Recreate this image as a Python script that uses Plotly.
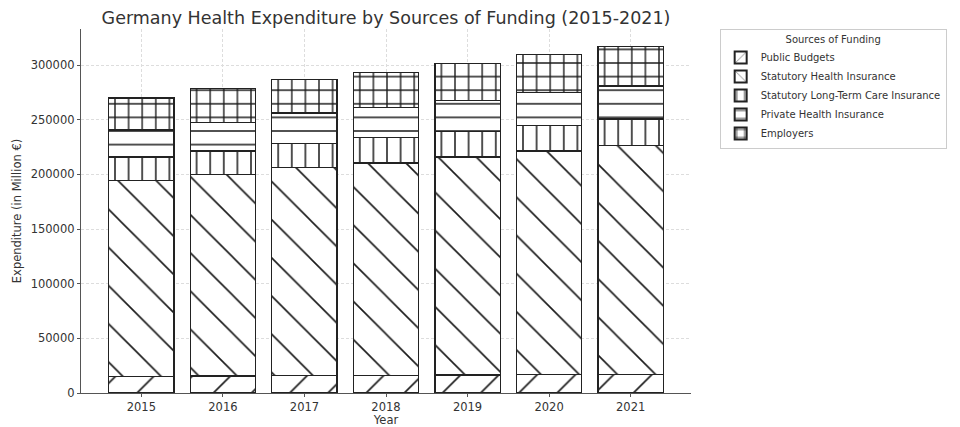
import plotly.graph_objects as go

years = ["2015", "2016", "2017", "2018", "2019", "2020", "2021"]
public_budgets = [15000, 15500, 16000, 16300, 16500, 16800, 17000]
statutory_health = [179500, 184300, 190000, 194200, 199500, 204700, 209400]
long_term_care = [21500, 21500, 22200, 23000, 23400, 23200, 24400]
private_health = [24500, 26000, 28000, 27500, 28500, 30000, 30000]
employers = [29500, 31000, 30500, 32500, 33500, 35000, 36500]

series = [
    ("Public Budgets", public_budgets, "/", 27, 0.06),
    ("Statutory Health Insurance", statutory_health, "\\", 27, 0.06),
    ("Statutory Long-Term Care Insurance", long_term_care, "|", 13.6, 0.11),
    ("Private Health Insurance", private_health, "-", 13.6, 0.11),
    ("Employers", employers, "+", 13.6, 0.19),
]

FONT = "DejaVu Sans"
TXT = "#333333"

fig = go.Figure()
for name, vals, shape, size, sol in series:
    fig.add_trace(go.Bar(
        x=years, y=vals, name=name, width=0.8,
        marker=dict(
            color="white",
            line=dict(color="#222", width=1.3),
            pattern=dict(shape=shape, size=size, solidity=sol,
                         fgcolor="#1a1a1a", fgopacity=1, bgcolor="white",
                         fillmode="overlay"),
        ),
    ))

fig.update_layout(
    barmode="stack",
    width=960, height=427,
    paper_bgcolor="white", plot_bgcolor="white",
    margin=dict(l=81, r=269, t=29, b=34, autoexpand=False),
    font=dict(family=FONT, color=TXT, size=11),
    title=dict(text="Germany Health Expenditure by Sources of Funding (2015-2021)",
               x=0.5, xref="paper", xanchor="center",
               y=1 - 18 / 427, yref="container", yanchor="middle",
               font=dict(size=17.5, color=TXT, family=FONT)),
    legend=dict(
        x=1.047, xanchor="left", y=1.0, yanchor="top",
        traceorder="normal",
        bordercolor="#cccccc", borderwidth=1, bgcolor="white",
        font=dict(size=10, color=TXT, family=FONT),
        title=dict(text="Sources of Funding", side="top center",
                   font=dict(size=10, color=TXT, family=FONT)),
        itemsizing="constant",
    ),
    bargap=0.2,
)

fig.update_xaxes(
    type="category", range=[-0.74, 6.74], automargin=False,
    title=dict(text="Year", standoff=4, font=dict(size=11.5)),
    showline=True, linecolor="#555", linewidth=1.3,
    ticks="outside", ticklen=3, tickcolor="#555",
    showgrid=True, gridcolor="#dddddd", griddash="3px,2px", gridwidth=0.8,
    tickfont=dict(size=11.5),
)
fig.update_yaxes(
    range=[0, 333000], automargin=False,
    tickvals=[0, 50000, 100000, 150000, 200000, 250000, 300000],
    tickformat="d",
    title=dict(text="Expenditure (in Million €)", standoff=6, font=dict(size=11.5)),
    showline=True, linecolor="#555", linewidth=1.3,
    ticks="outside", ticklen=3, tickcolor="#555",
    showgrid=True, gridcolor="#dddddd", griddash="3px,2px", gridwidth=0.8,
    zeroline=False,
    tickfont=dict(size=11.5),
)

fig.write_html("out.html", config={"displayModeBar": False},
               post_script="document.body.style.margin='0';")
